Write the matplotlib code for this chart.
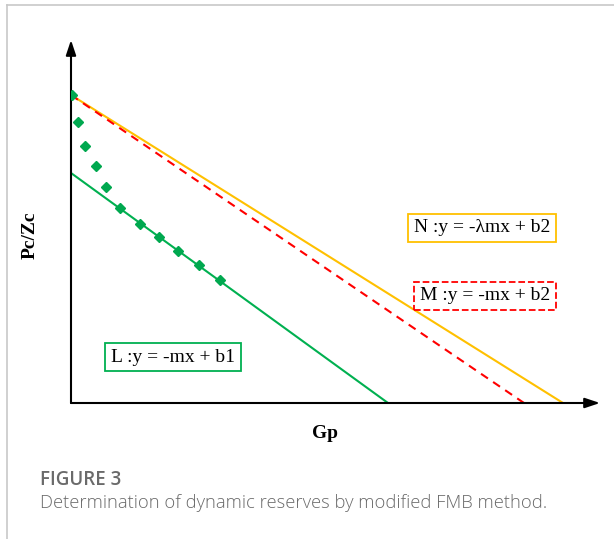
import matplotlib
matplotlib.use('Agg')
import matplotlib.pyplot as plt
from matplotlib.lines import Line2D

# data (arbitrary Gp / Pc/Zc units)
gp_pts = [0.01, 0.13, 0.27, 0.50, 0.69, 0.97, 1.37, 1.76, 2.14, 2.55, 2.97]
pz_pts = [6.16, 5.63, 5.14, 4.73, 4.33, 3.91, 3.58, 3.33, 3.05, 2.77, 2.46]

line_names = ['N', 'M', 'L']
line_b = [6.16, 6.16, 4.60]        # y intercepts
line_xint = [9.84, 9.06, 6.34]     # x intercepts
line_colors = ['#FFC000', '#FF0000', '#00B050']
line_styles = ['-', (0, (4, 3)), '-']
line_texts = ['N :y = -λmx + b2', 'M :y = -mx + b2', 'L :y = -mx + b1']
label_pos = [(8.22, 3.50), (8.28, 2.14), (2.04, 0.92)]

W, H = 614, 539
fig = plt.figure(figsize=(W / 100, H / 100), dpi=100)

# panel frame lines (top and left, light gray)
fig.add_artist(Line2D([7 / W, 1], [1 - 5 / H, 1 - 5 / H], color='#c8c8c8', lw=1.2))
fig.add_artist(Line2D([7 / W, 7 / W], [0, 1 - 5 / H], color='#c8c8c8', lw=1.2))

ax = fig.add_axes([71 / W, (H - 403) / H, 529 / W, 363 / H])
ax.set_xlim(0, 529 / 50)
ax.set_ylim(0, 363 / 50)
ax.axis('off')

# axis arrows
arrow = dict(arrowstyle='-|>,head_length=0.9,head_width=0.3', color='black', lw=1.5,
             shrinkA=0, shrinkB=0)
ax.annotate('', xy=(0, 1), xytext=(0, 0), xycoords='axes fraction', arrowprops=arrow)
ax.annotate('', xy=(1, 0), xytext=(0, 0), xycoords='axes fraction', arrowprops=arrow)

for b, xi, c, ls in zip(line_b, line_xint, line_colors, line_styles):
    ax.plot([0, xi], [b, 0], color=c, ls=ls, lw=1.5, zorder=2)

ax.plot(gp_pts, pz_pts, ls='none', marker='D', ms=5, color='#00A84F', zorder=3)

for t, (x, y), c, ls in zip(line_texts, label_pos, line_colors, ['-', '--', '-']):
    ax.text(x, y, t, ha='center', va='center', fontsize=14, family='Liberation Serif',
            bbox=dict(boxstyle='square,pad=0.3', fc='white', ec=c, lw=1.3, ls=ls))

fig.text(30 / W, 1 - 235 / H, 'Pc/Zc', rotation=90, ha='center', va='center',
         fontsize=14, fontweight='bold', family='Liberation Serif')
fig.text(325 / W, 1 - 434 / H, 'Gp', ha='center', va='center',
         fontsize=14, fontweight='bold', family='Liberation Serif')

fig.text(40 / W, 1 - 480 / H, 'FIGURE 3', ha='left', va='center', fontsize=13.5,
         color='#6a6a6a', family='Open Sans', fontweight='semibold')
fig.text(40 / W, 1 - 503 / H, 'Determination of dynamic reserves by modified FMB method.',
         ha='left', va='center', fontsize=13.2, color='#6a6a6a', family='Open Sans',
         fontweight='light')

fig.savefig('out.png', dpi=100)
